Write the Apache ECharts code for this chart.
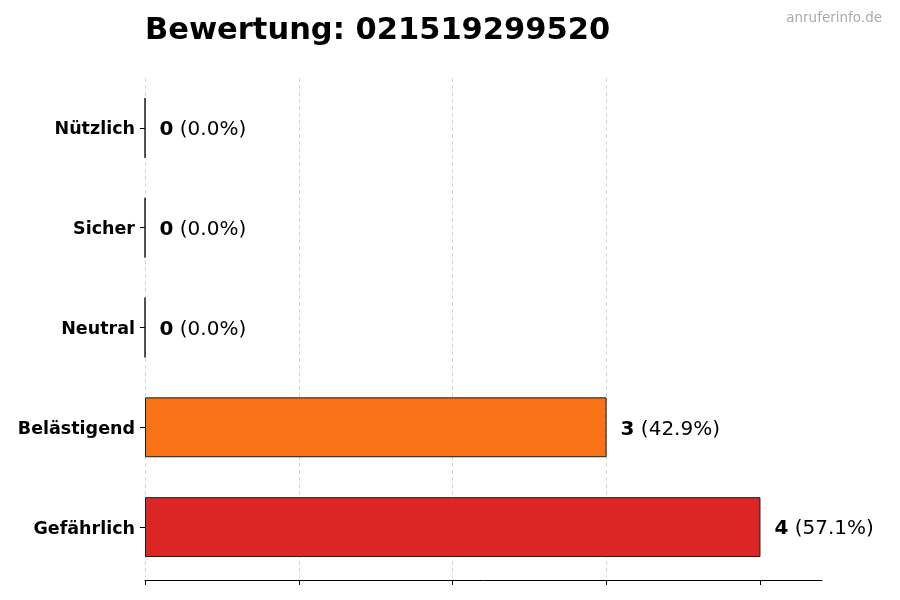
<!DOCTYPE html>
<html>
<head>
<meta charset="utf-8">
<script src="https://cdn.jsdelivr.net/npm/echarts@6/dist/echarts.min.js"></script>
<style>html,body{margin:0;padding:0;background:#fff}#c{width:900px;height:600px}</style>
</head>
<body>
<div id="c"></div>
<script>
const titleText = 'Bewertung: 021519299520';
const watermark = 'anruferinfo.de';
const categories = ['Gefährlich', 'Belästigend', 'Neutral', 'Sicher', 'Nützlich'];
const counts = [4, 3, 0, 0, 0];
const barColors = ['#DC2626', '#F97316', '#9CA3AF', '#22C55E', '#16A34A'];
const xTicks = [0, 1, 2, 3, 4];

const total = counts.reduce((a, b) => a + b, 0);
const chart = echarts.init(document.getElementById('c'), null, {renderer: 'canvas'});
const font = 'DejaVu Sans';

chart.setOption({
  backgroundColor: '#ffffff',
  animation: false,
  textStyle: {fontFamily: font},
  title: [
    {text: titleText, left: 140, top: 11,
     textStyle: {fontFamily: font, fontSize: 30.5, fontWeight: 'bold', color: '#000'}},
    {text: watermark, right: 13, top: 6,
     textStyle: {fontFamily: font, fontSize: 13.5, fontWeight: 'normal', color: '#aaaaaa'}}
  ],
  grid: {left: 145, right: 78, top: 78, bottom: 23, containLabel: false},
  xAxis: {
    type: 'value', min: 0, max: 4.4, interval: 1, offset: 3,
    axisLine: {show: true, lineStyle: {color: '#000', width: 1}},
    axisTick: {show: true, length: 5, lineStyle: {color: '#000'}, customValues: xTicks},
    axisLabel: {show: false},
    splitLine: {show: true, showMaxLine: false, lineStyle: {color: '#cccccc', type: [4, 3], width: 0.8}}
  },
  yAxis: {
    type: 'category', data: categories,
    axisLine: {show: false},
    axisTick: {show: true, alignWithLabel: true, length: 5, lineStyle: {color: '#000'}},
    axisLabel: {
      margin: 10,
      formatter: v => '{a|' + v + '}',
      rich: {a: {fontSize: 17.5, fontWeight: 'bold', color: '#000', fontFamily: font, padding: [4, 0, 0, 0]}}
    },
    splitLine: {show: false}
  },
  series: [{
    type: 'bar',
    barWidth: '60%',
    data: counts.map((v, i) => ({value: v, itemStyle: {color: barColors[i]}})),
    itemStyle: {borderColor: '#1a1a1a', borderWidth: 1},
    label: {
      show: true, position: 'right', distance: 14,
      formatter: p => '{b|' + p.value + '}{n| (' + (total ? (p.value / total * 100).toFixed(1) : '0.0') + '%)}',
      rich: {
        b: {fontFamily: font, fontSize: 20, fontWeight: 'bold', color: '#000', padding: [4, 0, 0, 0]},
        n: {fontFamily: font, fontSize: 20, fontWeight: 'normal', color: '#000', padding: [4, 0, 0, 0]}
      }
    }
  }]
});
</script>
</body>
</html>
